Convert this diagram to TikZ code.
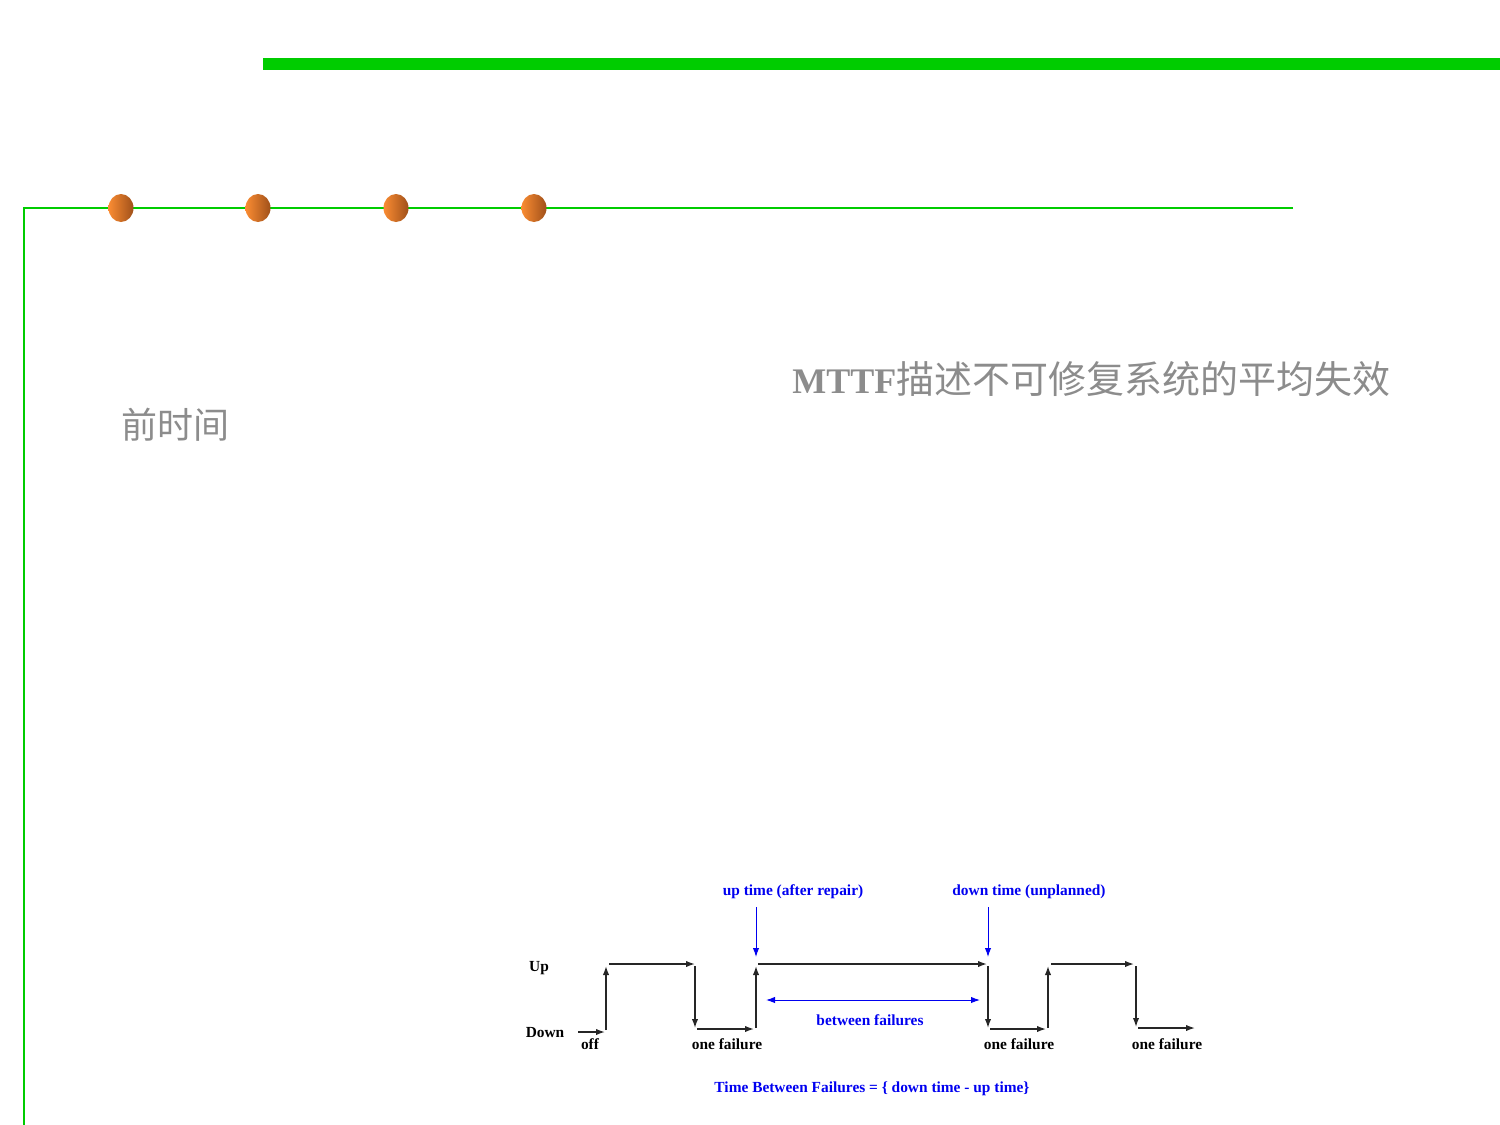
\documentclass[tikz,border=0pt]{standalone}
\usepackage{fontspec}
\setmainfont{Liberation Serif}
\newfontfamily\cjk{Noto Sans CJK SC}
\usetikzlibrary{arrows.meta,shapes.geometric}
\definecolor{grn}{RGB}{0,204,0}
\definecolor{dotL}{RGB}{250,140,50}
\definecolor{dotR}{RGB}{160,80,25}
\definecolor{txtgray}{RGB}{140,140,140}
\definecolor{lblue}{RGB}{0,0,240}
\tikzset{
  lbl/.style={font=\bfseries\fontsize{7.7}{8}\selectfont, inner sep=0pt},
  blbl/.style={lbl, text=lblue},
  wave/.style={draw=black!85, line width=0.7pt, -{Latex[length=4.5pt,width=3.2pt]}},
  bwave/.style={draw=lblue, line width=0.5pt, -{Latex[length=4.5pt,width=3.2pt]}},
  dot/.style={ellipse, minimum width=12.5pt, minimum height=14pt, inner sep=0pt, left color=dotL, right color=dotR},
  big/.style={font=\cjk\fontsize{18}{20}\selectfont, text=txtgray, inner sep=0pt}
}
\begin{document}
\begin{tikzpicture}[x=0.5pt,y=-0.5pt]
\useasboundingbox (0,0) rectangle (1500,1125);
% green decorations
\fill[grn] (263,58) rectangle (1500,70);
\draw[grn, line width=1.1pt] (1293,208) -- (24,208) -- (24,1125);
\node[dot] (d1) at (121,208) {};
\node[dot] (d2) at (258,208) {};
\node[dot] (d3) at (396,208) {};
\node[dot] (d4) at (534,208) {};
% big texts
\node[big, anchor=west] (mttf) at (792,379) {{\fontspec{Liberation Serif}\bfseries MTTF}{\fontsize{19}{20}\selectfont 描述不可修复系统的平均失效}};
\node[big, anchor=west] (qian) at (121,425) {前时间};
% labels
\node[lbl] (up) at (539,968) {Up};
\node[lbl] (down) at (545,1033) {Down};
\node[lbl] (off) at (590,1044) {off};
\node[lbl] (f1) at (727,1044) {one failure};
\node[lbl] (f2) at (1019,1044) {one failure};
\node[lbl] (f3) at (1167,1044) {one failure};
\node[blbl] (ut) at (793,892) {up time (after repair)};
\node[blbl] (dt) at (1029,892) {down time (unplanned)};
\node[blbl] (bf) at (870,1020) {between failures};
\node[blbl] (tbf) at (872,1089) {Time Between Failures = \{ down time - up time\}};
% waveform coordinates
\coordinate (a0) at (578,1032); \coordinate (a1) at (605,1032);
\coordinate (b0) at (606,1030); \coordinate (b1) at (606,966);
\coordinate (c0) at (609,964);  \coordinate (c1) at (695,964);
\coordinate (e0) at (695,966);  \coordinate (e1) at (695,1028);
\coordinate (g0) at (697,1029); \coordinate (g1) at (754,1029);
\coordinate (h0) at (756,1028); \coordinate (h1) at (756,966);
\coordinate (i0) at (758,964);  \coordinate (i1) at (987,964);
\coordinate (j0) at (988,966);  \coordinate (j1) at (988,1028);
\coordinate (k0) at (990,1029); \coordinate (k1) at (1046,1029);
\coordinate (l0) at (1048,1028);\coordinate (l1) at (1048,966);
\coordinate (m0) at (1051,964); \coordinate (m1) at (1134,964);
\coordinate (n0) at (1136,966); \coordinate (n1) at (1136,1027);
\coordinate (o0) at (1138,1028);\coordinate (o1) at (1195,1028);
\foreach \s in {a,b,c,e,g,h,i,j,k,l,m,n,o} \draw[wave] (\s0) -- (\s1);
% blue arrows
\coordinate (u0) at (756,907); \coordinate (u1) at (756,957);
\coordinate (v0) at (988,907); \coordinate (v1) at (988,957);
\coordinate (w0) at (766,1000); \coordinate (w1) at (980,1000);
\draw[bwave] (u0) -- (u1);
\draw[bwave] (v0) -- (v1);
\draw[bwave, {Latex[length=4.5pt,width=3.2pt]}-{Latex[length=4.5pt,width=3.2pt]}] (w0) -- (w1);
\end{tikzpicture}
\end{document}
